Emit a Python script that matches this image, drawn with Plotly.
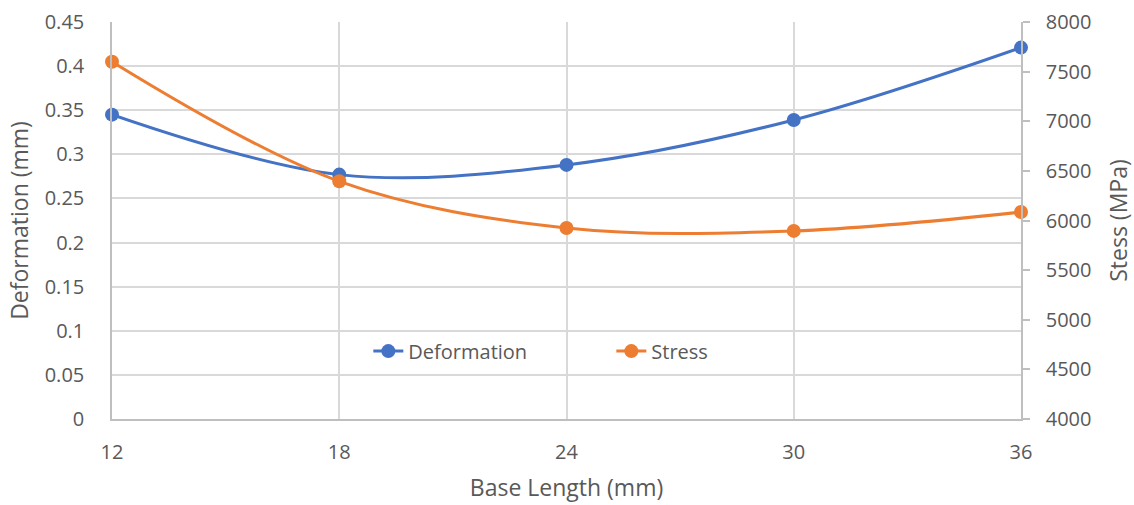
import plotly.graph_objects as go

# Base length of the part (mm)
base_length = [12, 18, 24, 30, 36]
# Maximum deformation (mm)
deformation = [0.345, 0.277, 0.288, 0.339, 0.421]
# Maximum stress (MPa)
stress = [7600, 6395, 5925, 5895, 6085]

x_ticks = [12, 18, 24, 30, 36]

BLUE = "#4472C4"
ORANGE = "#ED7D31"
GRID = "#D9D9D9"
TEXT = "#595959"
FONT = "Open Sans, Liberation Sans, sans-serif"

fig = go.Figure()
fig.add_trace(go.Scatter(
    x=base_length, y=deformation, name="Deformation",
    mode="lines+markers", line=dict(color=BLUE, width=3, shape="spline", smoothing=1),
    marker=dict(size=14, color=BLUE), yaxis="y", cliponaxis=False,
))
fig.add_trace(go.Scatter(
    x=base_length, y=stress, name="Stress",
    mode="lines+markers", line=dict(color=ORANGE, width=3, shape="spline", smoothing=1),
    marker=dict(size=14, color=ORANGE), yaxis="y2", cliponaxis=False,
))

# white panel behind the legend, covering the gridlines there
fig.add_shape(
    type="rect", xref="paper", yref="paper", layer="between",
    x0=0.262, x1=0.665, y0=0.124, y1=0.218,
    fillcolor="white", line=dict(width=0),
)

fig.update_layout(
    width=1134, height=505,
    margin=dict(l=112, r=113, t=22, b=86),
    paper_bgcolor="white", plot_bgcolor="white",
    font=dict(family=FONT, size=20, color=TEXT),
    showlegend=True,
    legend=dict(
        orientation="h", x=0.282, y=0.171, xanchor="left", yanchor="middle",
        bgcolor="rgba(0,0,0,0)", font=dict(size=20, color=TEXT),
        entrywidth=198, entrywidthmode="pixels", tracegroupgap=0,
    ),
    xaxis=dict(
        range=[12, 36], tickvals=x_ticks, ticktext=[str(v) for v in x_ticks],
        showgrid=True, gridcolor=GRID, gridwidth=1.5,
        showline=True, linecolor="#BFBFBF", linewidth=1.5,
        ticks="", zeroline=False, automargin=False,
        title=dict(text="Base Length (mm)", font=dict(size=23, color=TEXT), standoff=16),
        ticklabelstandoff=14,
    ),
    yaxis=dict(
        range=[0, 0.45], dtick=0.05,
        showgrid=True, gridcolor=GRID, gridwidth=1.5,
        showline=True, linecolor="#BFBFBF", linewidth=1.5,
        ticks="", zeroline=False, automargin=False,
        title=dict(text="Deformation (mm)", font=dict(size=23, color=TEXT), standoff=10),
        ticklabelstandoff=22,
    ),
    yaxis2=dict(
        range=[4000, 8000], dtick=500, overlaying="y", side="right",
        showgrid=False, showline=True, linecolor="#BFBFBF", linewidth=1.5,
        ticks="outside", ticklen=7, tickcolor="#BFBFBF", tickwidth=1.5,
        zeroline=False, ticklabelstandoff=12, automargin=False,
        title=dict(text="Stess (MPa)", font=dict(size=23, color=TEXT), standoff=20),
    ),
)

fig.write_html("out.html")
